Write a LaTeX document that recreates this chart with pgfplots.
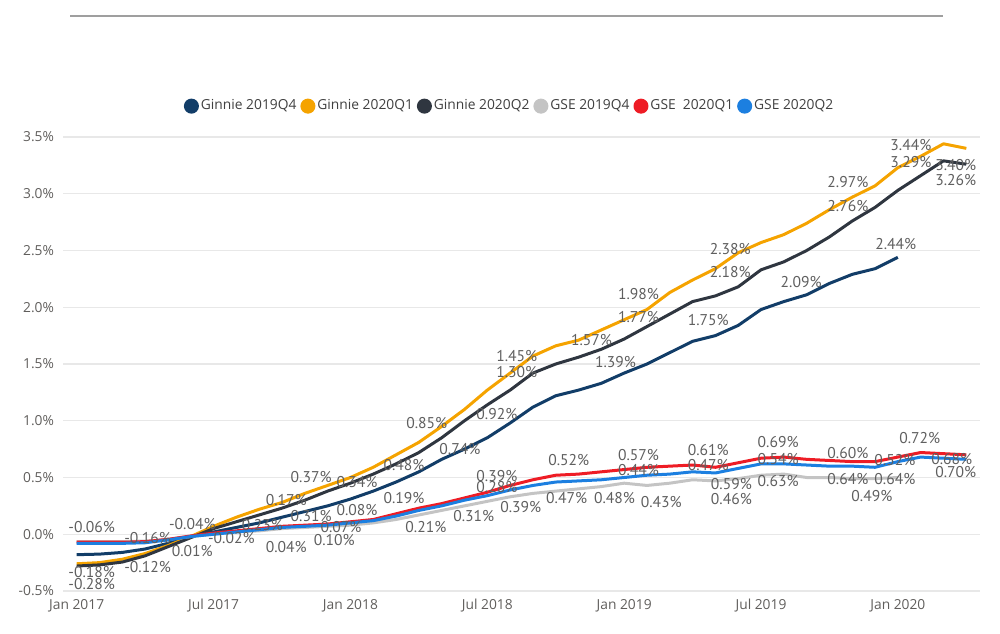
\documentclass[border=0pt]{standalone}
\usepackage{pgfplots}
\usepackage{pgfplotstable}
\pgfplotsset{compat=1.18}
\usepackage{fontspec}
\setmainfont{Open Sans}
\newfontfamily\dlfont{PT Sans}

\definecolor{cNavy}{HTML}{123D68}
\definecolor{cOrange}{HTML}{F5A300}
\definecolor{cDark}{HTML}{2F3640}
\definecolor{cLight}{HTML}{C4C4C4}
\definecolor{cRed}{HTML}{EE1C25}
\definecolor{cBlue}{HTML}{1C7FE0}
\definecolor{tickgray}{HTML}{605E5C}
\definecolor{lblgray}{HTML}{5F5F5F}

% months since Jan 2017; nan = series not yet observed
\pgfplotstableread{
m  navy   orange dark   light  red    blue
0  -0.18  -0.26  -0.28  -0.065 -0.07  -0.08
1  -0.175 -0.25  -0.27  -0.065 -0.07  -0.08
2  -0.16  -0.22  -0.245 -0.065 -0.07  -0.08
3  -0.13  -0.17  -0.19  -0.06  -0.065 -0.075
4  -0.08  -0.10  -0.11  -0.045 -0.045 -0.05
5  -0.02  -0.02  -0.03  -0.02  -0.015 -0.02
6  0.02   0.07   0.05   0.00   0.01   0.00
7  0.06   0.15   0.11   0.02   0.03   0.02
8  0.10   0.22   0.17   0.03   0.05   0.04
9  0.15   0.28   0.23   0.05   0.07   0.06
10 0.20   0.36   0.30   0.06   0.08   0.07
11 0.25   0.43   0.38   0.07   0.09   0.08
12 0.31   0.50   0.45   0.08   0.11   0.10
13 0.38   0.59   0.53   0.10   0.13   0.12
14 0.46   0.70   0.62   0.13   0.18   0.16
15 0.55   0.81   0.72   0.17   0.23   0.21
16 0.66   0.95   0.85   0.21   0.27   0.25
17 0.75   1.10   1.00   0.25   0.32   0.30
18 0.85   1.27   1.14   0.29   0.37   0.34
19 0.98   1.42   1.27   0.33   0.43   0.39
20 1.12   1.57   1.42   0.36   0.48   0.43
21 1.22   1.66   1.50   0.38   0.52   0.46
22 1.27   1.71   1.56   0.40   0.53   0.47
23 1.33   1.80   1.63   0.42   0.55   0.48
24 1.42   1.89   1.72   0.45   0.57   0.50
25 1.50   1.98   1.83   0.43   0.59   0.52
26 1.60   2.13   1.94   0.45   0.60   0.53
27 1.70   2.24   2.05   0.48   0.61   0.55
28 1.75   2.34   2.10   0.47   0.59   0.54
29 1.84   2.48   2.18   0.49   0.63   0.58
30 1.98   2.57   2.33   0.52   0.67   0.62
31 2.05   2.64   2.40   0.53   0.68   0.62
32 2.11   2.74   2.50   0.50   0.66   0.61
33 2.21   2.86   2.62   0.50   0.65   0.60
34 2.29   2.97   2.76   0.49   0.64   0.60
35 2.34   3.07   2.88   0.49   0.64   0.59
36 2.44   3.23   3.03   0.50   0.68   0.64
37 nan    3.33   3.16   nan    0.72   0.68
38 nan    3.44   3.29   nan    0.71   0.67
39 nan    3.40   3.26   nan    0.70   0.66
}\rates

\begin{document}
\begin{tikzpicture}[
    dl/.style={font=\dlfont\fontsize{7.8}{8}\selectfont, text=lblgray, inner sep=0pt}]
\useasboundingbox (0,0) rectangle (500pt,316.5pt);
\draw[gray!75, line width=0.6pt] (35pt,308.5pt) -- (471.5pt,308.5pt);
\begin{axis}[
    at={(31.5pt,21pt)}, anchor=south west,
    scale only axis, width=458.5pt, height=227pt,
    xmin=-0.6, xmax=39.6, ymin=-0.5, ymax=3.5,
    clip=false,
    unbounded coords=jump,
    axis line style={draw=none},
    major tick length=0pt,
    ymajorgrids, grid style={draw=gray!18, line width=0.6pt},
    ytick={-0.5,0,0.5,1,1.5,2,2.5,3,3.5},
    yticklabels={-0.5\%,0.0\%,0.5\%,1.0\%,1.5\%,2.0\%,2.5\%,3.0\%,3.5\%},
    xtick={0,6,12,18,24,30,36},
    xticklabels={Jan 2017,Jul 2017,Jan 2018,Jul 2018,Jan 2019,Jul 2019,Jan 2020},
    ticklabel style={font=\fontsize{6.9}{8}\selectfont, text=tickgray},
    yticklabel style={xshift=-1pt},
    xticklabel style={yshift=-0.5pt},
    legend columns=6,
    legend style={at={(0.487,1.068)}, anchor=center, draw=none,
        font=\fontsize{6.9}{8}\selectfont, text=black!75,
        nodes={inner sep=1pt},
        /tikz/every even column/.append style={column sep=1pt}},
    legend image code/.code={\fill[#1] (3pt,0pt) circle (3pt);},
    every axis plot/.append style={line width=1.5pt, line join=round},
]
\addplot[cNavy]   table[x=m, y=navy]   {\rates};
\addlegendentry{Ginnie 2019Q4}
\addplot[cOrange] table[x=m, y=orange] {\rates};
\addlegendentry{Ginnie 2020Q1}
\addplot[cDark]   table[x=m, y=dark]   {\rates};
\addlegendentry{Ginnie 2020Q2}
\addplot[cLight]  table[x=m, y=light]  {\rates};
\addlegendentry{GSE 2019Q4}
\addplot[cRed]    table[x=m, y=red]    {\rates};
\addlegendentry{GSE\ \ 2020Q1}
\addplot[cBlue]   table[x=m, y=blue]   {\rates};
\addlegendentry{GSE 2020Q2}

% data labels
\node[dl] at (axis cs:0.66,0.06)   {-0.06\%};
\node[dl] at (axis cs:3.11,-0.03)  {-0.16\%};
\node[dl] at (axis cs:0.66,-0.33)  {-0.18\%};
\node[dl] at (axis cs:0.66,-0.44)  {-0.28\%};
\node[dl] at (axis cs:3.11,-0.29)  {-0.12\%};
\node[dl] at (axis cs:5.07,0.09)   {-0.04\%};
\node[dl] at (axis cs:5.07,-0.15)  {0.01\%};
\node[dl] at (axis cs:6.78,-0.03)  {-0.02\%};
\node[dl] at (axis cs:8.14,0.08)   {0.23\%};
\node[dl] at (axis cs:9.19,-0.11)  {0.04\%};
\node[dl] at (axis cs:9.19,0.30)   {0.17\%};
\node[dl] at (axis cs:10.28,0.16)  {0.31\%};
\node[dl] at (axis cs:10.28,0.50)  {0.37\%};
\node[dl] at (axis cs:11.59,0.06)  {0.07\%};
\node[dl] at (axis cs:11.29,-0.05) {0.10\%};
\node[dl] at (axis cs:12.29,0.46)  {0.34\%};
\node[dl] at (axis cs:12.29,0.21)  {0.08\%};
\node[dl] at (axis cs:14.35,0.61)  {0.48\%};
\node[dl] at (axis cs:14.35,0.32)  {0.19\%};
\node[dl] at (axis cs:15.31,0.06)  {0.21\%};
\node[dl] at (axis cs:15.35,0.98)  {0.85\%};
\node[dl] at (axis cs:16.80,0.75)  {0.74\%};
\node[dl] at (axis cs:17.41,0.16)  {0.31\%};
\node[dl] at (axis cs:18.42,0.51)  {0.39\%};
\node[dl] at (axis cs:18.42,0.42)  {0.28\%};
\node[dl] at (axis cs:19.47,0.24)  {0.39\%};
\node[dl] at (axis cs:18.42,1.06)  {0.92\%};
\node[dl] at (axis cs:19.29,1.57)  {1.45\%};
\node[dl] at (axis cs:19.29,1.43)  {1.30\%};
\node[dl] at (axis cs:21.57,0.65)  {0.52\%};
\node[dl] at (axis cs:21.48,0.32)  {0.47\%};
\node[dl] at (axis cs:22.57,1.71)  {1.57\%};
\node[dl] at (axis cs:23.62,1.52)  {1.39\%};
\node[dl] at (axis cs:23.58,0.32)  {0.48\%};
\node[dl] at (axis cs:24.63,0.70)  {0.57\%};
\node[dl] at (axis cs:24.63,0.57)  {0.44\%};
\node[dl] at (axis cs:25.63,0.28)  {0.43\%};
\node[dl] at (axis cs:24.63,2.12)  {1.98\%};
\node[dl] at (axis cs:24.63,1.91)  {1.77\%};
\node[dl] at (axis cs:27.69,1.89)  {1.75\%};
\node[dl] at (axis cs:27.69,0.74)  {0.61\%};
\node[dl] at (axis cs:27.69,0.61)  {0.47\%};
\node[dl] at (axis cs:28.70,0.44)  {0.59\%};
\node[dl] at (axis cs:28.70,0.31)  {0.46\%};
\node[dl] at (axis cs:28.65,2.51)  {2.38\%};
\node[dl] at (axis cs:28.65,2.31)  {2.18\%};
\node[dl] at (axis cs:31.76,2.22)  {2.09\%};
\node[dl] at (axis cs:30.75,0.81)  {0.69\%};
\node[dl] at (axis cs:30.75,0.66)  {0.54\%};
\node[dl] at (axis cs:30.75,0.47)  {0.63\%};
\node[dl] at (axis cs:33.81,3.10)  {2.97\%};
\node[dl] at (axis cs:33.81,2.89)  {2.76\%};
\node[dl] at (axis cs:33.81,0.72)  {0.60\%};
\node[dl] at (axis cs:33.81,0.49)  {0.64\%};
\node[dl] at (axis cs:34.86,0.34)  {0.49\%};
\node[dl] at (axis cs:35.87,0.65)  {0.52\%};
\node[dl] at (axis cs:35.87,0.49)  {0.64\%};
\node[dl] at (axis cs:35.91,2.56)  {2.44\%};
\node[dl] at (axis cs:36.57,3.43)  {3.44\%};
\node[dl] at (axis cs:36.57,3.28)  {3.29\%};
\node[dl] at (axis cs:38.54,3.25)  {3.40\%};
\node[dl] at (axis cs:38.54,3.12)  {3.26\%};
\node[dl] at (axis cs:36.96,0.85)  {0.72\%};
\node[dl] at (axis cs:38.36,0.66)  {0.68\%};
\node[dl] at (axis cs:38.54,0.55)  {0.70\%};
\end{axis}
\end{tikzpicture}
\end{document}
